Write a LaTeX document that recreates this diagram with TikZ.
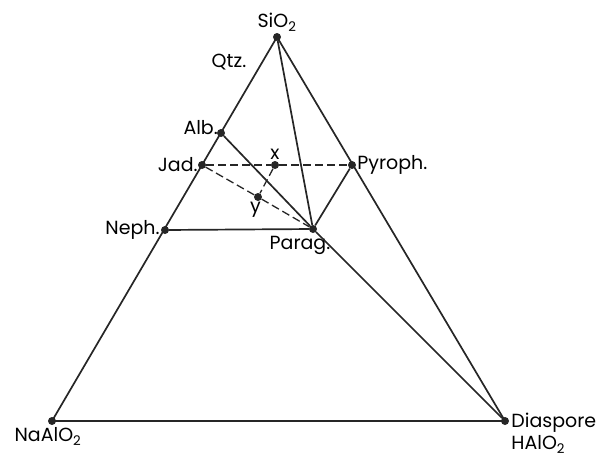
\documentclass[tikz,border=0pt]{standalone}
\usepackage{fontspec}
\setmainfont{Poppins}
\usepackage{tikz}
\usetikzlibrary{positioning}
\tikzset{
    phase/.style={circle, fill=black!85, inner sep=0pt, minimum size=8pt},
    tag/.style={inner sep=1pt, font=\fontsize{19}{22}\selectfont},
    tie/.style={line width=1.7pt, color=black!85},
    dashtie/.style={line width=1.3pt, color=black!85, dash pattern=on 8pt off 4pt}
}
\begin{document}
\begin{tikzpicture}[x=1pt, y=-1pt]
    \useasboundingbox (0,0) rectangle (603,459);
    % Phases
    \node (sio) [phase] at (277,37) {};
    \node (na) [phase] at (52,421) {};
    \node (dia) [phase] at (505,421) {};
    \node (alb) [phase] at (221,133) {};
    \node (jad) [phase] at (202,165) {};
    \node (neph) [phase] at (165,230) {};
    \node (pyr) [phase] at (352,165) {};
    \node (par) [phase] at (313,229) {};
    \node (x) [phase] at (275,165) {};
    \node (y) [phase] at (258,197) {};

    % Labels
    \node (siotxt) [tag, above=0pt of sio] {SiO\textsubscript{2}};
    \node (qtz) [tag] at (229,62) {Qtz.};
    \node (albtxt) [tag, above left=-6pt and -1pt of alb] {Alb.};
    \node (jadtxt) [tag, left=-1pt of jad] {Jad.};
    \node (nephtxt) [tag, left=0pt of neph] {Neph.};
    \node (pyrtxt) [tag, right=0pt of pyr] {Pyroph.};
    \node (partxt) [tag, below=2pt of par, xshift=-13pt] {Parag.};
    \node (xtxt) [tag, above=0pt of x] {x};
    \node (ytxt) [tag, below left=1pt and -7pt of y] {y};
    \node (natxt) [tag, below=1pt of na, xshift=-4pt] {NaAlO\textsubscript{2}};
    \node (diatxt) [tag, right=1pt of dia, yshift=-12pt, align=left] {Diaspore\\HAlO\textsubscript{2}};

    % Tie lines
    \draw [tie] (sio.center) -- (na.center) -- (dia.center) -- cycle;
    \draw [tie] (sio) -- (par);
    \draw [tie] (alb) -- (par) -- (dia);
    \draw [tie] (neph) -- (par);
    \draw [tie] (par) -- (pyr);
    \draw [dashtie] (jad) -- (x) -- (pyr);
    \draw [dashtie] (jad) -- (y) -- (par);
    \draw [dashtie] (x) -- (y);
\end{tikzpicture}
\end{document}
